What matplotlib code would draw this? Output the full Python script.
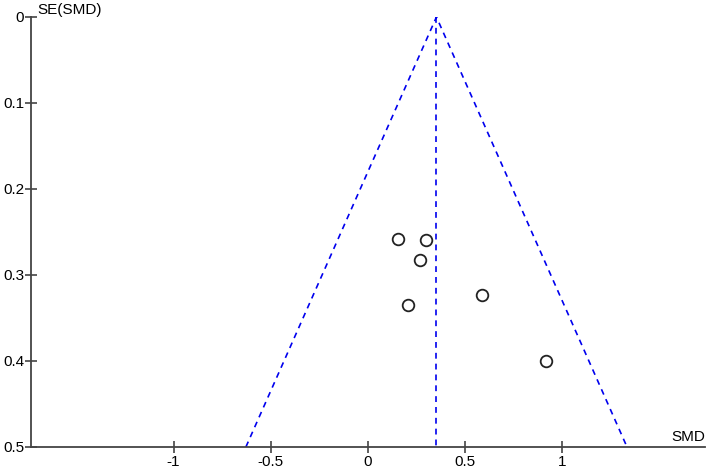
import numpy as np
import matplotlib.pyplot as plt

plt.rcParams['font.family'] = ['Liberation Sans', 'DejaVu Sans']

# study estimates
smd = [0.154, 0.298, 0.267, 0.206, 0.586, 0.915]
se = [0.258, 0.259, 0.283, 0.335, 0.323, 0.400]
pooled = 0.352
se_max = 0.5

xticks = [-1, -0.5, 0, 0.5, 1]
yticks = [0, 0.1, 0.2, 0.3, 0.4, 0.5]

fig = plt.figure(figsize=(7.09, 4.71), dpi=100)
ax = fig.add_axes([31 / 709, 24 / 471, 674 / 709, 430 / 471])

# funnel (pseudo 95% limits) and pooled line
funnel_x = [pooled - 1.96 * se_max, pooled, pooled + 1.96 * se_max]
funnel_y = [se_max, 0, se_max]
ax.plot(funnel_x, funnel_y, color='#0000ee', lw=1.2, ls=(0, (3.5, 3)))
ax.plot([pooled, pooled], [0, se_max], color='#0000ee', lw=1.2, ls=(0, (3.5, 3)))

ax.scatter(smd, se, s=70, facecolors='white', edgecolors='#222222',
           linewidths=1.3, zorder=3)

ax.set_xlim(-1.733, 1.733)
ax.set_ylim(se_max, 0)
ax.set_xticks(xticks)
ax.set_xticklabels([f"{t:g}" for t in xticks])
ax.set_yticks(yticks)
ax.set_yticklabels([f"{t:g}" for t in yticks])

for s in ['top', 'right']:
    ax.spines[s].set_visible(False)
for s in ['left', 'bottom']:
    ax.spines[s].set_color('#444444')
    ax.spines[s].set_linewidth(1.3)

ax.tick_params(direction='inout', length=8, width=1.2, color='#444444',
               labelsize=11, labelcolor='black')
ax.tick_params(axis='x', pad=2)
ax.tick_params(axis='y', pad=1)

ax.text(0.01, 1.0, 'SE(SMD)', transform=ax.transAxes, fontsize=11,
        ha='left', va='bottom')
ax.text(1.0, 0.008, 'SMD', transform=ax.transAxes, fontsize=11,
        ha='right', va='bottom')

fig.savefig('out.png', dpi=100)
